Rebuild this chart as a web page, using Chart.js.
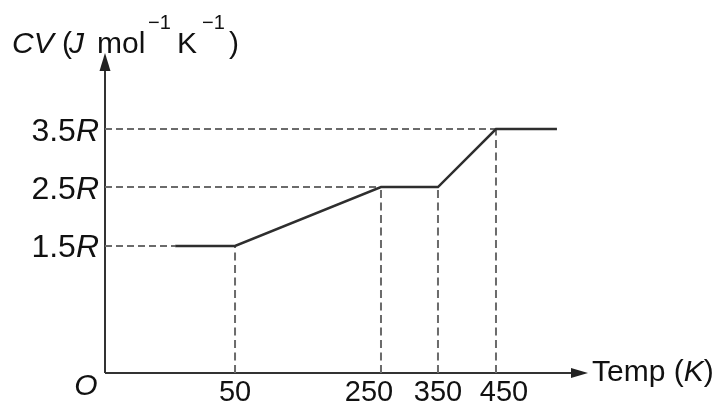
<!DOCTYPE html>
<html>
<head>
<meta charset="utf-8">
<script src="https://cdn.jsdelivr.net/npm/chart.js@4.4.1/dist/chart.umd.min.js"></script>
<style>
  html, body { margin: 0; padding: 0; background: #ffffff; }
  canvas { display: block; }
</style>
</head>
<body>
<canvas id="c" width="718" height="402"></canvas>
<script>
// ---- data (temperatures in K, heat capacity in units of R) ----
const tempPoints   = [27, 50, 250, 350, 450, 556];
const cvValues     = [1.5, 1.5, 2.5, 2.5, 3.5, 3.5];
const xTickValues  = [50, 250, 350, 450];
const xTickLabels  = ['50', '250', '350', '450'];
const yTickValues  = [1.5, 2.5, 3.5];
const yTickLabels  = ['1.5', '2.5', '3.5'];
const yUnit        = 'R';

// ---- schematic (non-uniform) axis mapping: [value, fraction of axis length] ----
const axisKnots = {
  x: [[0, 0], [50, 0.2692], [250, 0.5714], [350, 0.6894], [450, 0.8095], [610, 1]],
  y: [[0, 0], [1.5, 0.397], [2.5, 0.581], [3.5, 0.7625], [4.8, 1]]
};

class SchematicScale extends Chart.LinearScale {
  static id = 'schematic';
  static defaults = {};
  getPixelForValue(value) {
    if (value === null || value === undefined || isNaN(value)) return NaN;
    const k = axisKnots[this.id];
    let i = 1;
    while (i < k.length - 1 && value > k[i][0]) i++;
    const [v0, f0] = k[i - 1], [v1, f1] = k[i];
    const f = f0 + (value - v0) / (v1 - v0) * (f1 - f0);
    return this.getPixelForDecimal(f);
  }
  getValueForPixel(pixel) {
    const f = this.getDecimalForPixel(pixel);
    const k = axisKnots[this.id];
    let i = 1;
    while (i < k.length - 1 && f > k[i][1]) i++;
    const [v0, f0] = k[i - 1], [v1, f1] = k[i];
    return v0 + (f - f0) / (f1 - f0) * (v1 - v0);
  }
}
Chart.register(SchematicScale);

// ---- build datasets ----
const mainData = tempPoints.map((t, i) => ({ x: t, y: cvValues[i] }));
const guideStyle = {
  borderColor: '#6b6b6b', borderWidth: 2, borderDash: [7, 4],
  pointRadius: 0, fill: false, tension: 0, order: 2
};
const guides = [];
yTickValues.forEach(v => {
  const idx = cvValues.indexOf(v);
  guides.push(Object.assign({ data: [{ x: 0, y: v }, { x: tempPoints[idx], y: v }] }, guideStyle));
});
xTickValues.forEach(t => {
  const idx = tempPoints.indexOf(t);
  guides.push(Object.assign({ data: [{ x: t, y: 0 }, { x: t, y: cvValues[idx] }] }, guideStyle, { borderDash: [8, 4.5] }));
});

const TXT = '#111111';
const FONT = '"Liberation Sans", Arial, Helvetica, sans-serif';
const xLabelNudge = [0, -12, 0, 8];   // label placement as typeset in the source figure

const decorPlugin = {
  id: 'decor',
  beforeDatasetsDraw(chart) {
    const ctx = chart.ctx;
    const xs = chart.scales.x, ys = chart.scales.y;
    const x0 = xs.getPixelForValue(0), y0 = ys.getPixelForValue(0);
    const xEnd = xs.right, yEnd = ys.top;
    ctx.save();
    ctx.strokeStyle = '#333333';
    ctx.fillStyle = '#222222';
    ctx.lineWidth = 2;
    ctx.beginPath();
    ctx.moveTo(x0, y0); ctx.lineTo(x0, yEnd + 12);
    ctx.moveTo(x0, y0); ctx.lineTo(xEnd - 12, y0);
    ctx.stroke();
    // arrow heads
    ctx.beginPath();
    ctx.moveTo(x0, yEnd); ctx.lineTo(x0 - 5.5, yEnd + 18); ctx.lineTo(x0 + 5.5, yEnd + 18); ctx.closePath();
    ctx.fill();
    ctx.beginPath();
    ctx.moveTo(xEnd, y0); ctx.lineTo(xEnd - 17, y0 - 5); ctx.lineTo(xEnd - 17, y0 + 5); ctx.closePath();
    ctx.fill();
    ctx.restore();
  },
  afterDraw(chart) {
    const ctx = chart.ctx;
    const xs = chart.scales.x, ys = chart.scales.y;
    const x0 = xs.getPixelForValue(0), y0 = ys.getPixelForValue(0);
    ctx.save();
    ctx.fillStyle = TXT;
    ctx.textBaseline = 'alphabetic';
    const reg = '30px ' + FONT, ita = 'italic 30px ' + FONT, sup = '20px ' + FONT;
    const yreg = '32px ' + FONT, yita = 'italic 32px ' + FONT, xreg = '29px ' + FONT;
    // y tick labels: number + italic R
    yTickValues.forEach((v, i) => {
      const py = ys.getPixelForValue(v);
      const right = x0 - 6;
      ctx.font = yita; ctx.textAlign = 'right';
      ctx.fillText(yUnit, right, py + 11.5);
      const w = ctx.measureText(yUnit).width;
      ctx.font = yreg;
      ctx.fillText(yTickLabels[i], right - w, py + 11.5);
    });
    // x tick labels
    ctx.font = xreg; ctx.textAlign = 'center';
    xTickValues.forEach((t, i) => {
      ctx.fillText(xTickLabels[i], xs.getPixelForValue(t) + xLabelNudge[i], y0 + 28);
    });
    // origin
    ctx.font = ita; ctx.textAlign = 'center';
    ctx.fillText('O', x0 - 19, y0 + 22);
    // x axis title
    ctx.textAlign = 'left';
    let tx = xs.right + 4;
    const ty = y0 + 8;
    [['Temp (', reg], ['K', ita], [')', reg]].forEach(([s, f]) => {
      ctx.font = f; ctx.fillText(s, tx, ty); tx += ctx.measureText(s).width;
    });
    // y axis title
    const runs = [
      ['CV', ita, 12, 53], ['(', reg, 62, 53], ['J', ita, 69, 53], ['mol', reg, 97, 53],
      ['\u22121', sup, 148, 29], ['K', reg, 177, 53], ['\u22121', sup, 202, 29], [')', reg, 229, 53]
    ];
    runs.forEach(([s, f, x, y]) => { ctx.font = f; ctx.fillText(s, x, y); });
    ctx.restore();
  }
};

new Chart(document.getElementById('c'), {
  type: 'line',
  data: {
    datasets: [
      { data: mainData, borderColor: '#2e2e2e', borderWidth: 2.5, pointRadius: 0,
        fill: false, tension: 0, order: 1 },
      ...guides
    ]
  },
  options: {
    responsive: false,
    animation: false,
    events: [],
    layout: { padding: { left: 105, right: 130, top: 53, bottom: 29 } },
    plugins: { legend: { display: false }, tooltip: { enabled: false }, title: { display: false } },
    scales: {
      x: { type: 'schematic', min: 0, max: 610, display: false },
      y: { type: 'schematic', min: 0, max: 4.8, display: false }
    }
  },
  plugins: [decorPlugin]
});
</script>
</body>
</html>
